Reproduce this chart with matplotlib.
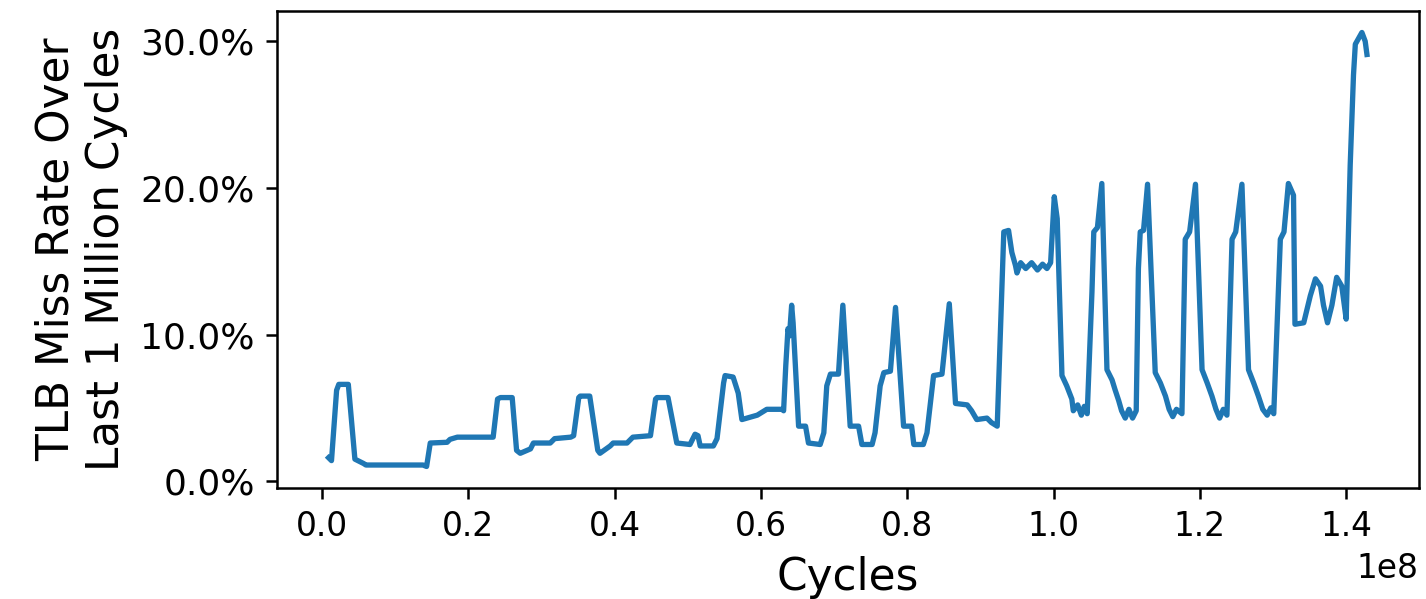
"""TLB miss rate over the last 1M cycles, plotted against total cycles."""

import matplotlib

matplotlib.use("Agg")
import matplotlib.pyplot as plt
import numpy as np
from matplotlib.ticker import MultipleLocator, PercentFormatter

# position in the run (millions of cycles) and the TLB miss rate (%)
cycles_m = [
    0.9, 1.3, 2.0, 2.3, 3.6, 4.5, 5.7, 6.0, 9.0, 12.0, 13.8, 14.3, 14.8,
    17.1, 17.5, 18.5, 23.4, 24.0, 24.4, 26.0, 26.6, 27.1, 28.5, 28.9, 31.2,
    31.8, 34.0, 34.4, 35.1, 35.3, 36.6, 37.7, 38.0, 39.4, 39.8, 41.7, 42.5,
    44.9, 45.6, 45.8, 47.3, 48.5, 50.3, 51.0, 51.4, 51.7, 53.5, 54.0, 54.9,
    55.1, 56.2, 56.9, 57.4, 58.1, 59.5, 60.8, 62.9, 63.1, 63.4, 63.7, 63.9,
    64.2, 64.4, 65.15, 66.1, 66.5, 68.1, 68.6, 69.0, 69.5, 70.6, 71.2, 72.2,
    73.35, 73.8, 75.2, 75.6, 76.3, 76.8, 77.7, 78.4, 79.5, 80.6, 80.9, 82.2,
    82.7, 83.6, 84.75, 85.75, 86.6, 88.2, 88.8, 89.5, 90.9, 91.5, 92.3, 93.2,
    93.85, 94.3, 94.8, 95.0, 95.5, 96.2, 97.0, 97.8, 98.5, 99.1, 99.6, 100.1,
    100.5, 101.15, 101.8, 102.5, 102.7, 103.3, 103.8, 104.2, 104.6, 105.25,
    105.5, 106.0, 106.6, 107.3, 108.0, 108.4, 108.9, 109.3, 109.8, 110.3,
    110.8, 111.3, 111.6, 111.85, 112.3, 112.85, 113.9, 114.6, 115.3, 115.8,
    116.3, 116.8, 117.55, 118.0, 118.6, 119.4, 120.3, 121.0, 121.65, 122.2,
    122.7, 123.2, 123.7, 124.4, 124.9, 125.75, 126.65, 127.35, 128.0, 128.6,
    129.2, 129.7, 130.1, 131.0, 131.5, 132.1, 132.8, 133.0, 134.2, 135.1,
    135.8, 136.5, 136.9, 137.45, 138.05, 138.7, 139.4, 140.0, 140.55, 141.0,
    141.25, 142.15, 142.6, 142.84,
]
miss_rate_pct = [
    1.6, 1.4, 6.2, 6.6, 6.6, 1.5, 1.2, 1.1, 1.1, 1.1, 1.1, 1.0, 2.6,
    2.65, 2.85, 3.0, 3.0, 5.6, 5.7, 5.7, 2.1, 1.9, 2.2, 2.6, 2.6,
    2.9, 3.0, 3.1, 5.7, 5.8, 5.8, 2.1, 1.9, 2.4, 2.6, 2.6, 3.0,
    3.1, 5.6, 5.7, 5.7, 2.6, 2.5, 3.2, 3.1, 2.4, 2.4, 2.9, 6.7,
    7.2, 7.1, 6.0, 4.2, 4.3, 4.5, 4.9, 4.9, 4.8, 7.9, 10.4, 9.9,
    12.0, 10.8, 3.75, 3.75, 2.6, 2.5, 3.3, 6.5, 7.3, 7.3, 12.0, 3.75,
    3.75, 2.5, 2.5, 3.3, 6.5, 7.4, 7.5, 11.85, 3.75, 3.75, 2.5, 2.5,
    3.3, 7.2, 7.3, 12.1, 5.3, 5.2, 4.8, 4.2, 4.3, 4.0, 3.75, 17.0,
    17.1, 15.6, 14.7, 14.2, 14.9, 14.5, 14.9, 14.4, 14.8, 14.5, 14.9, 19.4,
    17.9, 7.2, 6.5, 5.6, 4.8, 5.2, 4.5, 5.1, 4.6, 12.9,
    17.0, 17.3, 20.3, 7.6, 6.9, 6.25, 5.5, 4.8, 4.3, 4.9,
    4.3, 4.8, 14.5, 17.0, 17.1, 20.25, 7.4, 6.7, 5.8, 4.9,
    4.4, 4.9, 4.6, 16.5, 17.0, 20.25, 7.6, 6.7, 5.8, 4.9,
    4.3, 4.9, 4.5, 16.5, 17.0, 20.25, 7.6, 6.7, 5.8, 4.9,
    4.5, 5.0, 4.6, 16.5, 17.0, 20.3, 19.5, 10.7, 10.8, 12.65,
    13.8, 13.3, 12.0, 10.8, 12.0, 13.9, 13.3, 11.05, 21.55, 27.7,
    29.8, 30.6, 30.0, 29.1,
]

cycles = np.array(cycles_m) * 1e6

dpi = 225
fig, ax = plt.subplots(figsize=(1426 / dpi, 599 / dpi), dpi=dpi)
fig.subplots_adjust(left=0.194, right=0.995, top=0.982, bottom=0.185)

ax.plot(cycles, miss_rate_pct, color="#1f77b4", linewidth=1.7)

ax.yaxis.set_major_locator(MultipleLocator(10))
ax.yaxis.set_major_formatter(PercentFormatter(xmax=100, decimals=1))
ax.xaxis.set_major_locator(MultipleLocator(2e7))
ax.tick_params(axis="y", labelsize=11.5)
ax.tick_params(axis="x", labelsize=10.5)
ax.xaxis.get_offset_text().set_fontsize(10.5)

ax.set_xlabel("Cycles", fontsize=14)
ax.set_ylabel("TLB Miss Rate Over\nLast 1 Million Cycles", fontsize=14)

fig.savefig("out.png", dpi=dpi)
